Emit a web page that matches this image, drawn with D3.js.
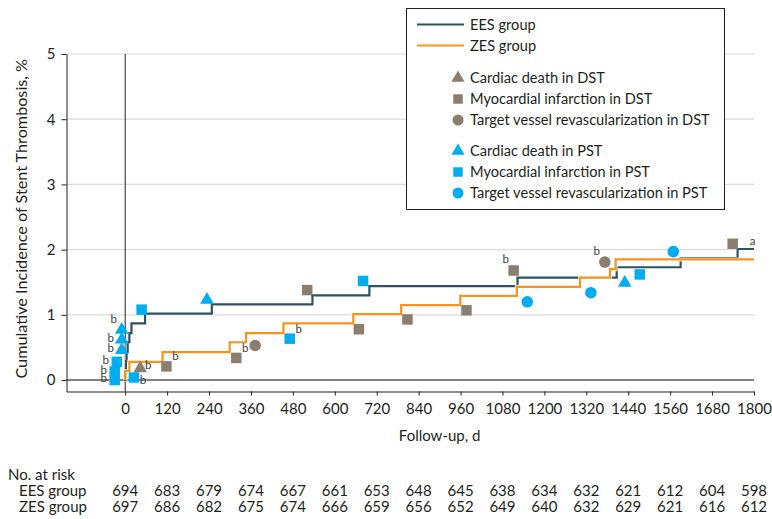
<!DOCTYPE html>
<html>
<head>
<meta charset="utf-8">
<script src="https://cdn.jsdelivr.net/npm/d3@7"></script>
<style>
  body { margin: 0; background: #fff; }
  text { font-family: Lato, "Noto Sans", sans-serif; fill: #231f20; }
</style>
</head>
<body>
<div id="chart"></div>
<script>
// x ticks (days) and numbers at risk
const tickDays = [0, 120, 240, 360, 480, 600, 720, 840, 960, 1080, 1200, 1320, 1440, 1560, 1680, 1800]
const riskEES = [694, 683, 679, 674, 667, 661, 653, 648, 645, 638, 634, 632, 621, 612, 604, 598]
const riskZES = [697, 686, 682, 675, 674, 666, 659, 656, 652, 649, 640, 632, 629, 621, 616, 612]
const yTicks = [0, 1, 2, 3, 4, 5]

// step curves: day where the step starts, cumulative incidence (%)
const eesDays = [0, 1, 2, 4, 7, 12, 18, 57, 248, 536, 699, 1123, 1407, 1590, 1753, 1800]
const eesValues = [0, 0.14, 0.29, 0.43, 0.58, 0.72, 0.87, 1.02, 1.16, 1.30, 1.44, 1.57, 1.73, 1.87, 2.01, 2.01]
const zesDays = [0, 0, 12, 107, 299, 346, 453, 653, 790, 959, 1121, 1302, 1388, 1404, 1800]
const zesValues = [0, 0.14, 0.28, 0.43, 0.58, 0.72, 0.87, 1.01, 1.15, 1.29, 1.43, 1.57, 1.70, 1.85, 1.85]

// events: [day, value, footnote, footnote side]
const deathDST = [[43, 0.18, 'b', 'r']]
const miDST = [[118, 0.21, 'b', 'ur'], [318, 0.34, 'b', 'ur'], [521, 1.38, '', ''], [669, 0.78, '', ''],
  [808, 0.93, '', ''], [977, 1.07, '', ''], [1112, 1.68, 'b', 'ul'], [1739, 2.09, 'a', 'far']]
const tvrDST = [[372, 0.53, '', ''], [1373, 1.81, 'b', 'ul']]
const deathPST = [[-10, 0.46, 'b', 'l'], [-10, 0.62, 'b', 'l'], [-10, 0.77, 'b', 'ul'], [234, 1.23, '', ''], [1430, 1.49, '', '']]
const miPST = [[-30, 0.0, 'b', 'l'], [-30, 0.13, 'b', 'l'], [-24, 0.28, 'b', 'l'], [25, 0.04, 'b', 'dr'],
  [47, 1.08, '', ''], [471, 0.635, 'b', 'ur'], [681, 1.52, '', ''], [1473, 1.62, '', '']]
const tvrPST = [[1151, 1.20, '', ''], [1333, 1.34, '', ''], [1569, 1.97, '', '']]

const colorEES = '#2e5261'
const colorZES = '#f7941d'
const colorDST = '#8b7e6e'
const colorPST = '#00aeef'

let width = 772,
    height = 519

let svg = d3.select('#chart')
    .append('svg')
    .attr('width', width)
    .attr('height', height)

//scales
let x = d3.scaleLinear().domain([-168, 1800]).range([66.5, 754])
let y = d3.scaleLinear().domain([-0.175, 5]).range([391.5, 54])

//gridlines
svg.append('g')
    .selectAll('line')
    .data(yTicks)
    .enter().append('line')
    .attr('x1', x(-168))
    .attr('x2', x(1800))
    .attr('y1', d => y(d))
    .attr('y2', d => y(d))
    .style('stroke', d => d === 0 ? '#58595b' : '#dcdcdc')
    .style('stroke-width', d => d === 0 ? 1.5 : 1.2)

//vertical line at day 0
svg.append('line')
    .attr('x1', x(0)).attr('x2', x(0))
    .attr('y1', y(5)).attr('y2', y(-0.175))
    .style('stroke', '#231f20')
    .style('stroke-width', 1)

//axes
let xAxis = d3.axisBottom(x).tickValues(tickDays).tickFormat(d3.format('d')).tickSize(4).tickSizeOuter(0)
let yAxis = d3.axisLeft(y).tickValues(yTicks).tickFormat(d3.format('d')).tickSize(5).tickSizeOuter(0)

let gx = svg.append('g')
    .attr('transform', `translate(0,${y(-0.175)})`)
    .call(xAxis)
gx.selectAll('text').style('font-size', '15px').attr('dy', '1.0em')
gx.selectAll('line, path').style('stroke', '#231f20')

let gy = svg.append('g')
    .attr('transform', `translate(${x(-168)},0)`)
    .call(yAxis)
gy.selectAll('text').style('font-size', '15px').attr('dx', '-0.2em')
gy.selectAll('line, path').style('stroke', '#231f20')
gx.selectAll('text').style('fill', '#231f20')
gy.selectAll('text').style('fill', '#231f20')

//axis titles
svg.append('text')
    .attr('x', (x(0) + x(1800)) / 2)
    .attr('y', 441)
    .attr('text-anchor', 'middle')
    .style('font-size', '15px')
    .text('Follow-up, d')

svg.append('text')
    .attr('transform', `translate(27,${(y(5) + y(-0.175)) / 2 - 4}) rotate(-90)`)
    .attr('text-anchor', 'middle')
    .style('font-size', '16.2px')
    .text('Cumulative Incidence of Stent Thrombosis, %')

//step curves
let step = d3.line()
    .x(d => x(d[0]))
    .y(d => y(d[1]))
    .curve(d3.curveStepAfter)

function drawCurve(days, values, color) {
    let pts = days.map((d, i) => [d, values[i]])
    svg.append('path')
        .datum(pts)
        .attr('d', step)
        .style('fill', 'none')
        .style('stroke', '#fff')
        .style('stroke-opacity', 0.8)
        .style('stroke-width', 4)
    svg.append('path')
        .datum(pts)
        .attr('d', step)
        .style('fill', 'none')
        .style('stroke', color)
        .style('stroke-width', 2.2)
}
drawCurve(eesDays, eesValues, colorEES)
drawCurve(zesDays, zesValues, colorZES)

//markers
let symSquare = d3.symbol().type(d3.symbolSquare).size(110)
let symCircle = d3.symbol().type(d3.symbolCircle).size(105)
let symTriangle = d3.symbol().type(d3.symbolTriangle).size(80)

const noteOffset = { l: [-11, -1], ul: [-8, -10], r: [8, -2], ur: [9, -9], dr: [9, 4], far: [20, -2] }

function drawEvents(events, sym, color) {
    let g = svg.append('g')
    g.selectAll('path')
        .data(events)
        .enter().append('path')
        .attr('d', sym)
        .attr('transform', d => `translate(${x(d[0])},${y(d[1])})`)
        .style('fill', color)
    g.selectAll('text')
        .data(events.filter(d => d[2]))
        .enter().append('text')
        .attr('x', d => x(d[0]) + noteOffset[d[3]][0])
        .attr('y', d => y(d[1]) + noteOffset[d[3]][1])
        .attr('text-anchor', 'middle')
        .attr('dominant-baseline', 'middle')
        .style('font-size', '11.5px')
        .style('fill', '#414042')
        .text(d => d[2])
}
drawEvents(miDST, symSquare, colorDST)
drawEvents(deathDST, symTriangle, colorDST)
drawEvents(tvrDST, symCircle, colorDST)
drawEvents(miPST, symSquare, colorPST)
drawEvents(deathPST, symTriangle, colorPST)
drawEvents(tvrPST, symCircle, colorPST)

//legend
let legend = svg.append('g')
legend.append('rect')
    .attr('x', 406.5).attr('y', 8.5)
    .attr('width', 318).attr('height', 201)
    .style('fill', '#fff')
    .style('stroke', '#231f20')
    .style('stroke-width', 1)

const legendLines = [['EES group', colorEES, 24.5], ['ZES group', colorZES, 45.5]]
legendLines.forEach(d => {
    legend.append('line')
        .attr('x1', 417).attr('x2', 464)
        .attr('y1', d[2]).attr('y2', d[2])
        .style('stroke', d[1]).style('stroke-width', 2)
    legend.append('text')
        .attr('x', 470).attr('y', d[2] + 5)
        .style('font-size', '14.6px')
        .text(d[0])
})

let legSquare = d3.symbol().type(d3.symbolSquare).size(90)
let legCircle = d3.symbol().type(d3.symbolCircle).size(95)
let legTriangle = d3.symbol().type(d3.symbolTriangle).size(75)
const legendItems = [
    ['Cardiac death in DST', legTriangle, colorDST, 78],
    ['Myocardial infarction in DST', legSquare, colorDST, 99],
    ['Target vessel revascularization in DST', legCircle, colorDST, 120],
    ['Cardiac death in PST', legTriangle, colorPST, 151],
    ['Myocardial infarction in PST', legSquare, colorPST, 172],
    ['Target vessel revascularization in PST', legCircle, colorPST, 193]
]
legendItems.forEach(d => {
    legend.append('path')
        .attr('d', d[1])
        .attr('transform', `translate(458,${d[3]})`)
        .style('fill', d[2])
    legend.append('text')
        .attr('x', 470).attr('y', d[3] + 5)
        .style('font-size', '14.6px')
        .text(d[0])
})

//number at risk table
svg.append('text').attr('x', 8).attr('y', 480).style('font-size', '15px').text('No. at risk')
svg.append('text').attr('x', 19).attr('y', 496).style('font-size', '15px').text('EES group')
svg.append('text').attr('x', 19).attr('y', 512).style('font-size', '15px').text('ZES group')

svg.append('g').selectAll('text')
    .data(riskEES)
    .enter().append('text')
    .attr('x', (d, i) => x(tickDays[i]))
    .attr('y', 496)
    .attr('text-anchor', 'middle')
    .style('font-size', '15px')
    .text(d => d)

svg.append('g').selectAll('text')
    .data(riskZES)
    .enter().append('text')
    .attr('x', (d, i) => x(tickDays[i]))
    .attr('y', 512)
    .attr('text-anchor', 'middle')
    .style('font-size', '15px')
    .text(d => d)
</script>
</body>
</html>
